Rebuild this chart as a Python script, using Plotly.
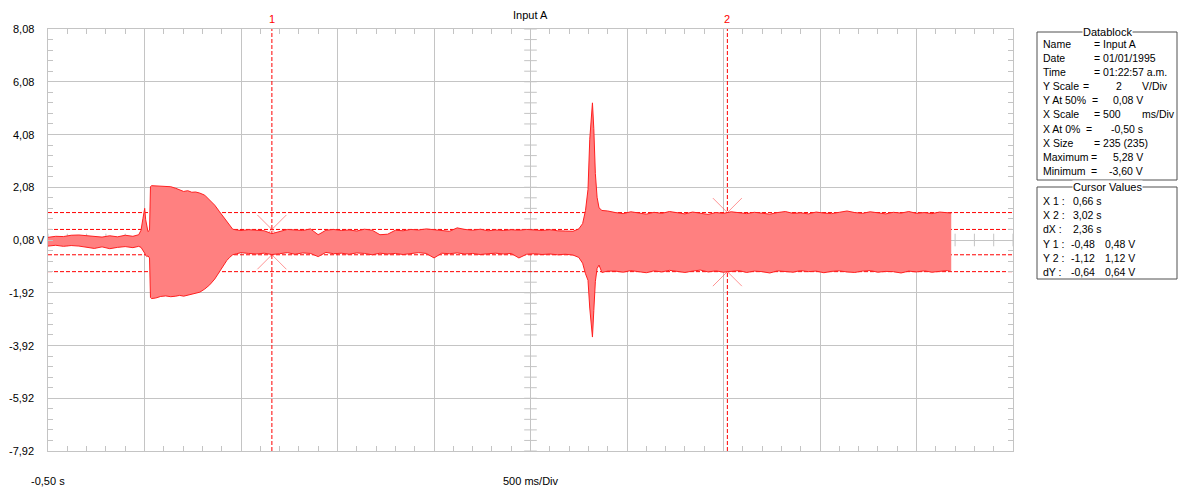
import plotly.graph_objects as go

# ---------------------------------------------------------------- geometry
W, H = 1185, 489
ML, MR, MT, MB = 48, 172, 29, 38
PW, PH = W - ML - MR, H - MT - MB

X_RANGE = [-0.5, 4.5]        # s  (500 ms/Div, 10 divisions)
Y_RANGE = [-7.92, 8.08]      # V  (2 V/Div, 8 divisions)
X_DIV, Y_DIV = 0.5, 2.0
X_CENTER, Y_CENTER = 2.0, 0.08

GRID = "#c4c4c4"
RED = "#ff0000"
FILL = "#ff8080"
FONT = "Liberation Sans, Arial, sans-serif"
PANEL_SIZE = 10.5

# ---------------------------------------------------------------- signal envelope (Input A)
t_pre = [-0.50, -0.46, -0.42, -0.38, -0.34, -0.30, -0.26, -0.22, -0.18, -0.14, -0.10, -0.06]
up_pre = [0.18, 0.22, 0.21, 0.26, 0.27, 0.25, 0.22, 0.19, 0.24, 0.20, 0.26, 0.22]
lo_pre = [-0.15, -0.12, -0.16, -0.13, -0.15, -0.20, -0.24, -0.18, -0.25, -0.20, -0.17, -0.21]

t_trig = [-0.030, -0.018, -0.008, 0.001, 0.006, 0.012, 0.018, 0.026, 0.031, 0.036]
up_trig = [0.28, 0.45, 0.90, 1.28, 0.85, 0.60, 0.40, 0.45, 2.10, 2.14]
lo_trig = [-0.16, -0.20, -0.30, -0.42, -0.50, -0.55, -0.52, -0.60, -2.10, -2.14]

t_burst = [0.058, 0.084, 0.110, 0.136, 0.162, 0.182, 0.203, 0.224, 0.245, 0.265,
           0.286, 0.312, 0.338, 0.364, 0.389, 0.410, 0.426, 0.441, 0.457, 0.478]
up_burst = [2.13, 2.13, 2.12, 2.10, 2.04, 1.98, 1.92, 1.95, 1.89, 1.90,
            1.86, 1.78, 1.60, 1.40, 1.15, 0.95, 0.77, 0.62, 0.49, 0.46]
lo_burst = [-2.12, -2.06, -2.04, -2.07, -2.05, -2.02, -2.05, -2.01, -1.95, -1.92,
            -1.90, -1.78, -1.62, -1.40, -1.10, -0.88, -0.70, -0.58, -0.48, -0.44]

t_idle = [0.50, 0.54, 0.58, 0.62, 0.66, 0.70, 0.74, 0.78, 0.82, 0.86, 0.90, 0.94, 0.98, 1.02,
          1.06, 1.10, 1.14, 1.18, 1.22, 1.26, 1.30, 1.34, 1.38, 1.42, 1.46, 1.50, 1.54, 1.58,
          1.62, 1.66, 1.70, 1.74, 1.78, 1.82, 1.86, 1.90, 1.94, 1.98, 2.02, 2.06, 2.10, 2.14]
up_idle = [0.44, 0.47, 0.45, 0.43, 0.32, 0.40, 0.48, 0.46, 0.44, 0.50, 0.28, 0.45, 0.48, 0.44,
           0.46, 0.42, 0.49, 0.45, 0.28, 0.30, 0.45, 0.43, 0.48, 0.46, 0.50, 0.47, 0.44, 0.41,
           0.54, 0.48, 0.45, 0.49, 0.43, 0.46, 0.44, 0.47, 0.45, 0.48, 0.46, 0.44, 0.47, 0.43]
lo_idle = [-0.40, -0.43, -0.45, -0.42, -0.47, -0.44, -0.40, -0.46, -0.41, -0.43, -0.55, -0.39,
           -0.44, -0.42, -0.46, -0.41, -0.43, -0.48, -0.42, -0.45, -0.43, -0.47, -0.44, -0.40,
           -0.43, -0.60, -0.42, -0.44, -0.41, -0.45, -0.43, -0.47, -0.44, -0.42, -0.45, -0.43,
           -0.60, -0.46, -0.44, -0.47, -0.45, -0.48]

t_spike = [2.18, 2.22, 2.25, 2.27, 2.285, 2.298, 2.307, 2.316, 2.321, 2.328, 2.336,
           2.345, 2.355, 2.37, 2.40]
up_spike = [0.42, 0.41, 0.50, 0.70, 1.20, 2.00, 3.90, 5.00, 5.28, 4.30, 2.60,
            1.70, 1.30, 1.20, 1.18]
lo_spike = [-0.46, -0.49, -0.58, -0.80, -1.20, -1.45, -2.50, -3.25, -3.60, -2.60, -1.50,
            -1.00, -0.87, -1.15, -1.10]

t_run = [2.44, 2.48, 2.52, 2.56, 2.60, 2.64, 2.68, 2.72, 2.76, 2.80, 2.84, 2.88, 2.92, 2.96,
         3.00, 3.04, 3.08, 3.12, 3.16, 3.20, 3.24, 3.28, 3.32, 3.36, 3.40, 3.44, 3.48, 3.52,
         3.56, 3.60, 3.64, 3.68, 3.72, 3.76, 3.80, 3.84, 3.88, 3.92, 3.96, 4.00, 4.04, 4.08,
         4.12, 4.16, 4.18]
up_run = [1.12, 1.08, 1.15, 1.10, 1.06, 1.13, 1.09, 1.16, 1.11, 1.07, 1.14, 1.10, 1.05, 1.12,
          1.09, 1.15, 1.11, 1.08, 1.13, 1.10, 1.06, 1.12, 1.16, 1.09, 1.11, 1.07, 1.14, 1.10,
          1.08, 1.13, 1.18, 1.12, 1.09, 1.15, 1.11, 1.07, 1.13, 1.10, 1.16, 1.09, 1.12, 1.08,
          1.14, 1.11, 1.10]
lo_run = [-1.10, -1.14, -1.08, -1.12, -1.16, -1.09, -1.13, -1.07, -1.11, -1.15, -1.10, -1.06,
          -1.13, -1.09, -1.14, -1.11, -1.08, -1.15, -1.10, -1.12, -1.17, -1.09, -1.11, -1.14,
          -1.08, -1.12, -1.10, -1.16, -1.11, -1.09, -1.13, -1.15, -1.10, -1.08, -1.14, -1.11,
          -1.12, -1.17, -1.10, -1.13, -1.09, -1.14, -1.11, -1.08, -1.12]

t_sig = t_pre + t_trig + t_burst + t_idle + t_spike + t_run
up_sig = up_pre + up_trig + up_burst + up_idle + up_spike + up_run
lo_sig = lo_pre + lo_trig + lo_burst + lo_idle + lo_spike + lo_run

# ---------------------------------------------------------------- cursors
CURSOR_NAMES = ["1", "2"]
CURSOR_T = [0.66, 3.02]          # s
CURSOR_Y = [0.48, 1.12]          # V (drawn at +/-)
TRIGGER_T = 0.0

# ---------------------------------------------------------------- axis labels
Y_TICKS = [8.08, 6.08, 4.08, 2.08, 0.08, -1.92, -3.92, -5.92, -7.92]
Y_TICK_TEXT = ["8,08", "6,08", "4,08", "2,08", "0,08", "-1,92", "-3,92", "-5,92", "-7,92"]
X_START_TEXT = "-0,50 s"
X_SCALE_TEXT = "500 ms/Div"
TITLE = "Input A"

# ---------------------------------------------------------------- info panels
# (text, x pixel); a negative x means right-aligned at |x|
DATABLOCK = [
    [("Name", 1041), ("= Input A", 1092)],
    [("Date", 1041), ("= 01/01/1995", 1092)],
    [("Time", 1041), ("= 01:22:57 a.m.", 1092)],
    [("Y Scale", 1041), ("=", 1081), ("2", 1114), ("V/Div", 1140)],
    [("Y At 50%", 1041), ("=", 1090), ("0,08 V", -1145)],
    [("X Scale", 1041), ("= 500", 1092), ("ms/Div", 1140)],
    [("X At 0%", 1041), ("=", 1084), ("-0,50 s", -1145)],
    [("X Size", 1041), ("= 235 (235)", 1092)],
    [("Maximum", 1041), ("=", 1089), ("5,28 V", -1145)],
    [("Minimum", 1041), ("=", 1089), ("-3,60 V", -1145)],
]
CURSOR_TABLE = [
    [("X 1 :", 1041), ("0,66 s", 1071)],
    [("X 2 :", 1041), ("3,02 s", 1071)],
    [("dX :", 1041), ("2,36 s", 1071)],
    [("Y 1 :", 1041), ("-0,48", 1069), ("0,48 V", -1137)],
    [("Y 2 :", 1041), ("-1,12", 1069), ("1,12 V", -1137)],
    [("dY :", 1041), ("-0,64", 1069), ("0,64 V", -1137)],
]


def px(x):
    return (x - ML) / PW


def py(y):
    return (H - MB - y) / PH


fig = go.Figure()

# centre graticule marks
y_marks, v = [], Y_RANGE[0]
while v <= Y_RANGE[1] + 1e-9:
    y_marks.append(round(v, 2))
    v += Y_DIV / 5
x_marks, v = [], X_RANGE[0]
while v <= X_RANGE[1] + 1e-9:
    x_marks.append(round(v, 2))
    v += X_DIV / 5
fig.add_trace(go.Scatter(x=[X_CENTER] * len(y_marks), y=y_marks, mode="markers",
                         marker=dict(symbol="line-ew", size=9, line=dict(color=GRID, width=1)),
                         hoverinfo="skip", showlegend=False))
fig.add_trace(go.Scatter(x=x_marks, y=[Y_CENTER] * len(x_marks), mode="markers",
                         marker=dict(symbol="line-ns", size=9, line=dict(color=GRID, width=1)),
                         hoverinfo="skip", showlegend=False))

# cursor level lines
for yv in CURSOR_Y:
    for s in (1, -1):
        fig.add_trace(go.Scatter(x=X_RANGE, y=[s * yv, s * yv], mode="lines",
                                 line=dict(color=RED, width=1, dash="4px,2px"),
                                 hoverinfo="skip", showlegend=False))
# cursor time lines
for tv in CURSOR_T:
    fig.add_trace(go.Scatter(x=[tv, tv], y=Y_RANGE, mode="lines",
                             line=dict(color=RED, width=1, dash="4px,2px"),
                             hoverinfo="skip", showlegend=False))
# cursor crossings
cx, cy = [], []
for tv, yv in zip(CURSOR_T, CURSOR_Y):
    cx += [tv, tv]
    cy += [yv, -yv]
fig.add_trace(go.Scatter(x=cx, y=cy, mode="markers",
                         marker=dict(symbol="x-thin", size=29,
                                     line=dict(color="rgba(255,60,60,0.55)", width=1)),
                         hoverinfo="skip", showlegend=False))

# signal envelope
fig.add_trace(go.Scatter(x=t_sig, y=lo_sig, mode="lines",
                         line=dict(color="#ff2020", width=1),
                         hoverinfo="skip", showlegend=False))
fig.add_trace(go.Scatter(x=t_sig, y=up_sig, mode="lines", fill="tonexty",
                         fillcolor=FILL, line=dict(color="#ff2020", width=1),
                         hoverinfo="skip", showlegend=False))

# cursor flags and trigger marker
fig.add_trace(go.Scatter(x=CURSOR_T, y=[Y_RANGE[1] + 0.07] * len(CURSOR_T), mode="markers",
                         marker=dict(symbol="triangle-down", size=6, color=RED),
                         cliponaxis=False, hoverinfo="skip", showlegend=False))
fig.add_trace(go.Scatter(x=[TRIGGER_T], y=[Y_RANGE[0] - 0.1], mode="markers",
                         marker=dict(symbol="triangle-up", size=6, color="black"),
                         cliponaxis=False, hoverinfo="skip", showlegend=False))

ann = []
for name, tv in zip(CURSOR_NAMES, CURSOR_T):
    ann.append(dict(x=tv, y=1, xref="x", yref="paper", text=name, showarrow=False,
                    yanchor="bottom", yshift=2, font=dict(color=RED, size=11)))

for yv, txt in zip(Y_TICKS, Y_TICK_TEXT):
    ann.append(dict(x=0, y=yv, xref="paper", yref="y", text=txt, showarrow=False,
                    xanchor="right", xshift=-12, font=dict(size=11)))
    if abs(yv - Y_CENTER) < 1e-9:
        ann.append(dict(x=0, y=yv, xref="paper", yref="y", text="V", showarrow=False,
                        xanchor="left", xshift=-13, font=dict(size=11)))

ann.append(dict(x=0, y=0, xref="paper", yref="paper", text=X_START_TEXT, showarrow=False,
                xanchor="center", yanchor="top", yshift=-22, font=dict(size=11)))
ann.append(dict(x=X_CENTER, y=0, xref="x", yref="paper", text=X_SCALE_TEXT, showarrow=False,
                xanchor="center", yanchor="top", yshift=-22, font=dict(size=11)))
ann.append(dict(x=X_CENTER, y=1, xref="x", yref="paper", text=TITLE, showarrow=False,
                xanchor="center", yanchor="bottom", yshift=6, font=dict(size=11)))

shapes = []


def group_box(title, top, bottom, rows, first_row, step):
    shapes.append(dict(type="rect", xref="paper", yref="paper",
                       x0=px(1037), x1=px(1177), y0=py(bottom), y1=py(top),
                       line=dict(color="#505050", width=1)))
    ann.append(dict(x=px(1107), y=py(top), xref="paper", yref="paper", text=title,
                    showarrow=False, xanchor="center", yanchor="middle", bgcolor="white",
                    borderpad=0, font=dict(size=PANEL_SIZE + 0.5)))
    for i, row in enumerate(rows):
        yy = py(first_row + i * step)
        for txt, xpos in row:
            ann.append(dict(x=px(abs(xpos)), y=yy, xref="paper", yref="paper", text=txt,
                            showarrow=False, xanchor="right" if xpos < 0 else "left",
                            yanchor="middle", font=dict(size=PANEL_SIZE)))


group_box("Datablock", 32, 180, DATABLOCK, 44, 14.1)
group_box("Cursor Values", 187, 279, CURSOR_TABLE, 201, 14.2)

axis_common = dict(showline=True, mirror="allticks", linecolor=GRID, linewidth=1,
                   showgrid=True, gridcolor=GRID, gridwidth=1, zeroline=False,
                   showticklabels=False, ticks="inside", ticklen=5, tickcolor=GRID)

fig.update_layout(
    width=W, height=H,
    margin=dict(l=ML, r=MR, t=MT, b=MB),
    paper_bgcolor="white", plot_bgcolor="white",
    font=dict(family=FONT, size=11, color="black"),
    xaxis=dict(range=X_RANGE, tick0=X_RANGE[0], dtick=X_DIV,
               minor=dict(ticks="inside", ticklen=5, tickcolor=GRID, tick0=X_RANGE[0],
                          dtick=X_DIV / 5, showgrid=False),
               **axis_common),
    yaxis=dict(range=Y_RANGE, tick0=Y_CENTER, dtick=Y_DIV,
               minor=dict(ticks="inside", ticklen=5, tickcolor=GRID, tick0=Y_CENTER,
                          dtick=Y_DIV / 5, showgrid=False),
               **axis_common),
    annotations=ann,
    shapes=shapes,
    showlegend=False,
)

fig.write_html("out.html")
